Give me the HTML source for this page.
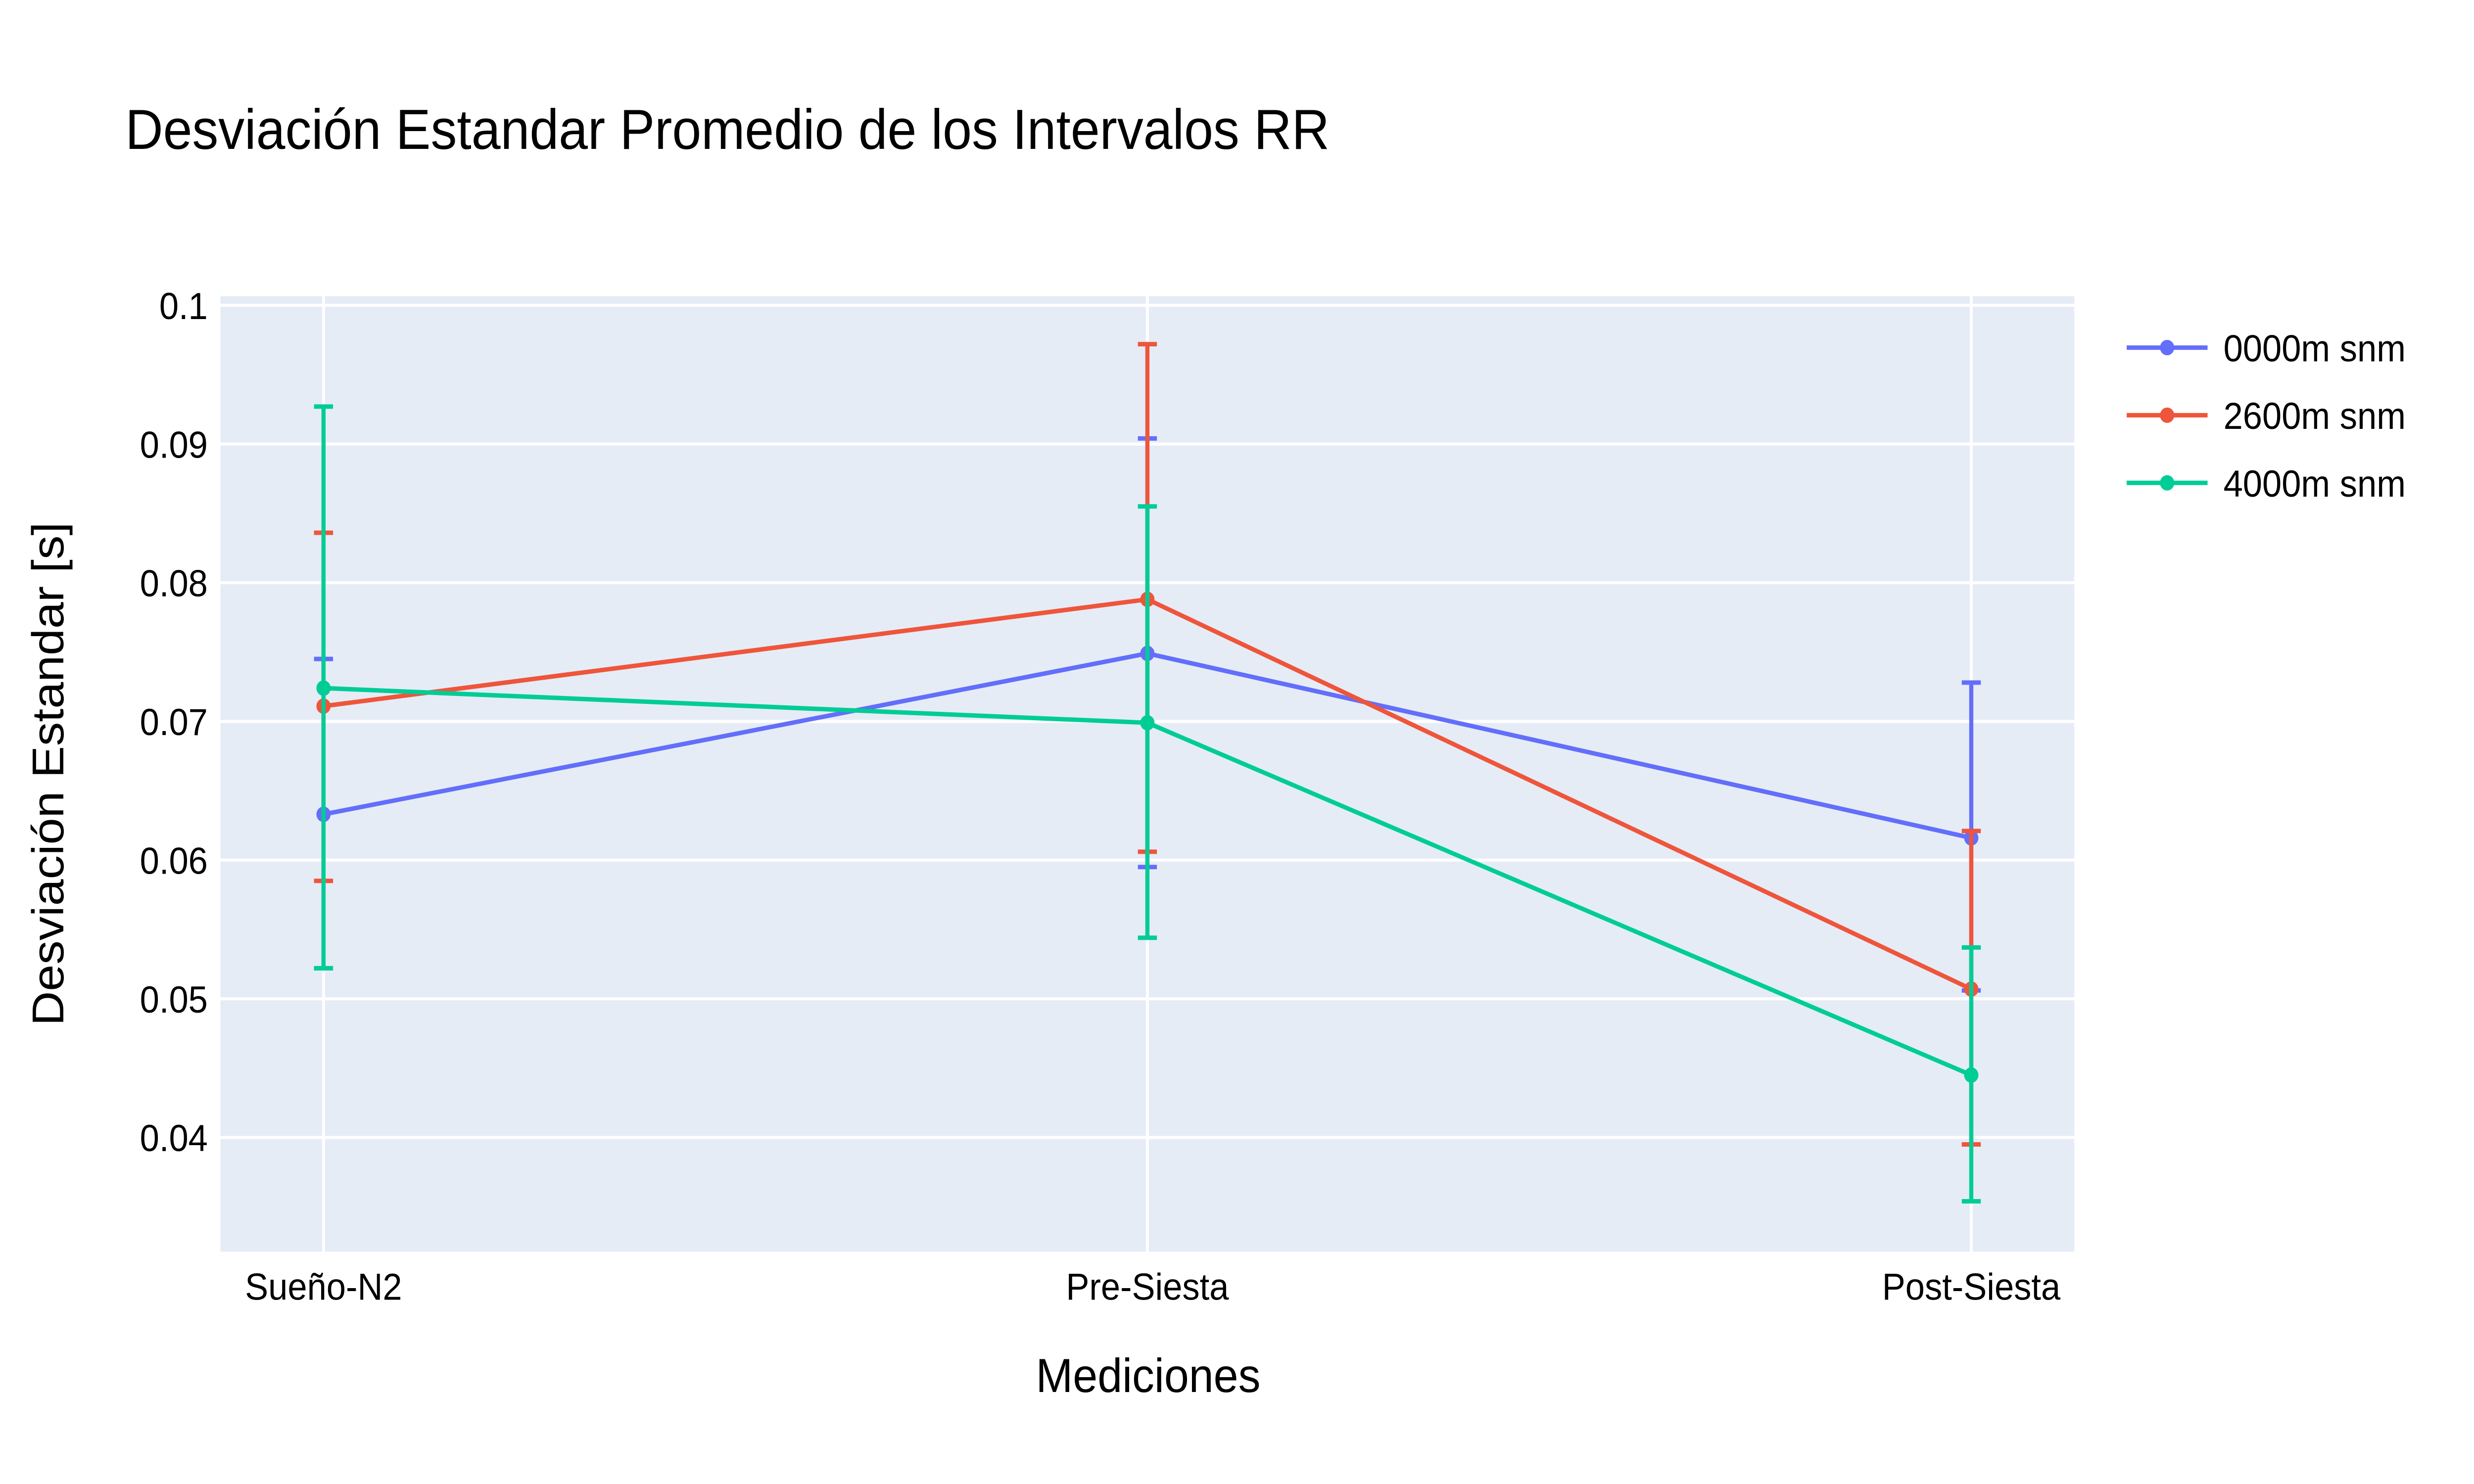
<!DOCTYPE html>
<html><head><meta charset="utf-8"><style>html,body{margin:0;padding:0;background:#fff;overflow:hidden;width:100vw;height:100vh}svg{display:block;width:100vw;height:100vh}</style></head>
<body>
<svg id="chart" viewBox="0 0 1560 866.67" preserveAspectRatio="none" xmlns="http://www.w3.org/2000/svg" font-family="Liberation Sans, sans-serif">
<rect width="1560" height="866.67" fill="#fff"/>
<text x="79" y="87" font-size="33" fill="#000">Desviación Estandar Promedio de los Intervalos RR</text>
<rect x="139" y="173" width="1169" height="558" fill="#e5ecf6"/>
<g id="grid"></g>
<g id="series"></g>
<text x="724" y="813" font-size="28" text-anchor="middle" fill="#000">Mediciones</text>
<text transform="translate(40,452) rotate(-90)" font-size="28" text-anchor="middle" fill="#000">Desviación Estandar [s]</text>
<g id="legend"></g>
</svg>
<script>
const categories = ["Sueño-N2", "Pre-Siesta", "Post-Siesta"];
const seriesNames = ["0000m snm", "2600m snm", "4000m snm"];
const colors = ["#636efa", "#ef553b", "#00cc96"];
const values0 = [0.0633, 0.0749, 0.0616];
const values1 = [0.0711, 0.0788, 0.0507];
const values2 = [0.0724, 0.0699, 0.0445];
const upper0 = [0.0745, 0.0904, 0.0728];
const lower0 = [0.0522, 0.0595, 0.0506];
const upper1 = [0.0836, 0.0972, 0.0621];
const lower1 = [0.0585, 0.0606, 0.0395];
const upper2 = [0.0927, 0.0855, 0.0537];
const lower2 = [0.0522, 0.0544, 0.0354];
const yTicks = [0.04, 0.05, 0.06, 0.07, 0.08, 0.09, 0.1];
const yTickLabels = ["0.04", "0.05", "0.06", "0.07", "0.08", "0.09", "0.1"];

const NS = "http://www.w3.org/2000/svg";
const xScale = i => 204 + i * 519.5;
const yScale = v => 178.3 + (0.1 - v) * 8100;
function mk(tag, attrs, parent) {
  const e = document.createElementNS(NS, tag);
  for (const k in attrs) e.setAttribute(k, attrs[k]);
  parent.appendChild(e);
  return e;
}
const grid = document.getElementById('grid');
yTicks.forEach((t, i) => {
  const l = mk('line', {x1: 139, x2: 1308, y1: yScale(t), y2: yScale(t), stroke: '#fff', 'stroke-width': 1.8}, grid);
  
  
  const tx = mk('text', {x: 131, y: yScale(t) + 8, 'font-size': 22, 'text-anchor': 'end', fill: '#000'}, grid);
  tx.textContent = yTickLabels[i];
  
  
});
categories.forEach((c, i) => {
  const l = mk('line', {x1: xScale(i), x2: xScale(i), y1: 173, y2: 731, stroke: '#fff', 'stroke-width': 1.8}, grid);
  
  
  const tx = mk('text', {x: xScale(i), y: 759, 'font-size': 22, 'text-anchor': 'middle', fill: '#000'}, grid);
  tx.textContent = c;
  
  
});
const vals = [values0, values1, values2];
const ups = [upper0, upper1, upper2];
const lows = [lower0, lower1, lower2];
const sg = document.getElementById('series');
vals.forEach((v, s) => {
  const g = mk('g', {}, sg);
  
  
  v.forEach((val, i) => {
    const x = xScale(i), yu = yScale(ups[s][i]), yl = yScale(lows[s][i]);
    const e = mk('path', {d: `M${x},${yu}V${yl}M${x-6},${yu}H${x+6}M${x-6},${yl}H${x+6}`, stroke: colors[s], 'stroke-width': 2.6, fill: 'none'}, g);
    
    
  });
  const line = mk('polyline', {points: v.map((val, i) => xScale(i) + ',' + yScale(val)).join(' '), stroke: colors[s], 'stroke-width': 2.6, fill: 'none'}, g);
  
  
  v.forEach((val, i) => {
    const c = mk('circle', {cx: xScale(i), cy: yScale(val), r: 4.5, fill: colors[s]}, g);
    
    
  });
});
const lg = document.getElementById('legend');
seriesNames.forEach((n, s) => {
  const y = 203 + s * 39.5;
  const g = mk('g', {}, lg);
  
  
  mk('line', {x1: 1341, x2: 1392, y1: y, y2: y, stroke: colors[s], 'stroke-width': 2.6}, g);
  mk('circle', {cx: 1366.5, cy: y, r: 4.5, fill: colors[s]}, g);
  const t = mk('text', {x: 1402, y: y + 8, 'font-size': 22, fill: '#000'}, g);
  t.textContent = n;
});
</script>
</body></html>
